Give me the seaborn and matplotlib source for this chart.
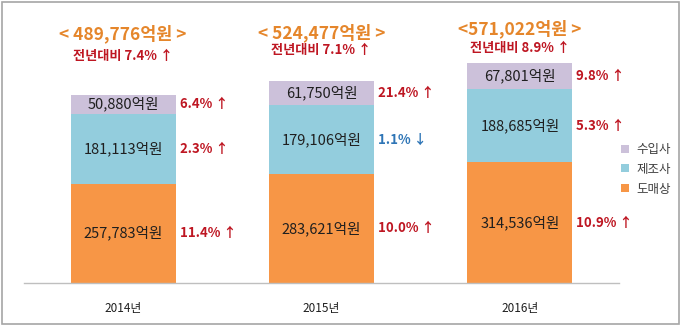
import matplotlib
matplotlib.use("Agg")
import matplotlib.pyplot as plt
import matplotlib.transforms as mtransforms
from matplotlib.patches import Rectangle, Patch
import seaborn as sns
import pandas as pd

# --- data (억원) ---
years = ["2014년", "2015년", "2016년"]
wholesale = [257783, 283621, 314536]      # 도매상
manufacturer = [181113, 179106, 188685]   # 제조사
importer = [50880, 61750, 67801]          # 수입사
totals = [489776, 524477, 571022]
total_growth = ["7.4%", "7.1%", "8.9%"]
wholesale_growth = ["11.4%", "10.0%", "10.9%"]
manufacturer_growth = ["2.3%", "1.1%", "5.3%"]
importer_growth = ["6.4%", "21.4%", "9.8%"]
manufacturer_up = [True, False, True]
series_names = ["수입사", "제조사", "도매상"]

# --- styling ---
C_ORANGE = "#F79646"
C_TEAL = "#93CDDD"
C_LAVENDER = "#CCC1DA"
C_TITLE = "#E5862B"
C_RED = "#BE1622"
C_BLUE = "#2E75B6"
C_TEXT = "#1F1F1F"

sns.set_style("white")
plt.rcParams["font.family"] = ["Noto Sans CJK KR", "DejaVu Sans"]

df = pd.DataFrame({
    "year": years,
    "wholesale": wholesale,
    "manufacturer": manufacturer,
    "importer": importer,
})
df["mid"] = df["wholesale"] + df["manufacturer"]
df["top"] = df["mid"] + df["importer"]

W, H = 680, 325
fig = plt.figure(figsize=(W / 100, H / 100), dpi=100)
ax = fig.add_axes([24 / W, 42 / H, 595 / W, 250 / H])

bar_w = 0.53
sns.barplot(data=df, x="year", y="top", color=C_LAVENDER, saturation=1,
            width=bar_w, linewidth=0, ax=ax)
sns.barplot(data=df, x="year", y="mid", color=C_TEAL, saturation=1,
            width=bar_w, linewidth=0, ax=ax)
sns.barplot(data=df, x="year", y="wholesale", color=C_ORANGE, saturation=1,
            width=bar_w, linewidth=0, ax=ax)

ax.set_xlim(-0.5, 2.5)
ax.set_ylim(0, 650000)
ax.set_xlabel("")
ax.set_ylabel("")
ax.set_yticks([])
for s in ["left", "right", "top"]:
    ax.spines[s].set_visible(False)
ax.spines["bottom"].set_color("#BFBFBF")
ax.spines["bottom"].set_linewidth(1.0)

# boundary ticks below the axis, labels centred under bars
ax.set_xticks([-0.5, 0.5, 1.5, 2.5])
ax.set_xticklabels([])
ax.tick_params(axis="x", which="major", direction="out", length=5,
               width=1, color="#BFBFBF")
ax.set_xticks(range(len(years)), minor=True)
ax.set_xticklabels(years, minor=True, fontsize=8.5, color=C_TEXT)
ax.tick_params(axis="x", which="minor", length=0, pad=14)

# segment value labels and growth labels
pct_x = bar_w / 2 + 0.02
for i in range(len(years)):
    segs = [
        (0, wholesale[i], wholesale_growth[i], True),
        (wholesale[i], manufacturer[i], manufacturer_growth[i], manufacturer_up[i]),
        (wholesale[i] + manufacturer[i], importer[i], importer_growth[i], True),
    ]
    for base, val, g, up in segs:
        yc = base + val / 2
        ax.text(i, yc, f"{val:,}억원", ha="center", va="center",
                fontsize=10.5, color=C_TEXT)
        ax.text(i + pct_x, yc, f"{g} {'↑' if up else '↓'}", ha="left",
                va="center", fontsize=9.5, fontweight="bold",
                color=C_RED if up else C_BLUE)

# totals above each bar
blend = mtransforms.blended_transform_factory(ax.transData, fig.transFigure)
title_y = [34, 33, 29]
sub_y = [56, 50, 48]
title_fmt = ["< {:,}억원 >", "< {:,}억원 >", "<{:,}억원 >"]
for i in range(len(years)):
    ax.text(i, 1 - title_y[i] / H, title_fmt[i].format(totals[i]),
            transform=blend, ha="center", va="center", fontsize=12.5,
            fontweight="bold", color=C_TITLE, clip_on=False)
    ax.text(i, 1 - sub_y[i] / H, f"전년대비 {total_growth[i]} ↑",
            transform=blend, ha="center", va="center", fontsize=9.5,
            fontweight="bold", color=C_RED, clip_on=False)

# legend
handles = [Patch(facecolor=c, edgecolor="none")
           for c in [C_LAVENDER, C_TEAL, C_ORANGE]]
fig.legend(handles, series_names, loc="upper left",
           bbox_to_anchor=(621 / W, 1 - 143 / H), frameon=False,
           fontsize=9, handlelength=0.6, handleheight=0.6,
           handletextpad=0.6, labelspacing=0.55, labelcolor="#404040",
           borderpad=0, borderaxespad=0)

# outer frame
fig.patches.append(Rectangle((1.5 / W, 1.5 / H), (W - 3) / W, (H - 3) / H,
                             transform=fig.transFigure, fill=False,
                             edgecolor="#A6A6A6", linewidth=1.2))

fig.savefig("out.png", dpi=100)
